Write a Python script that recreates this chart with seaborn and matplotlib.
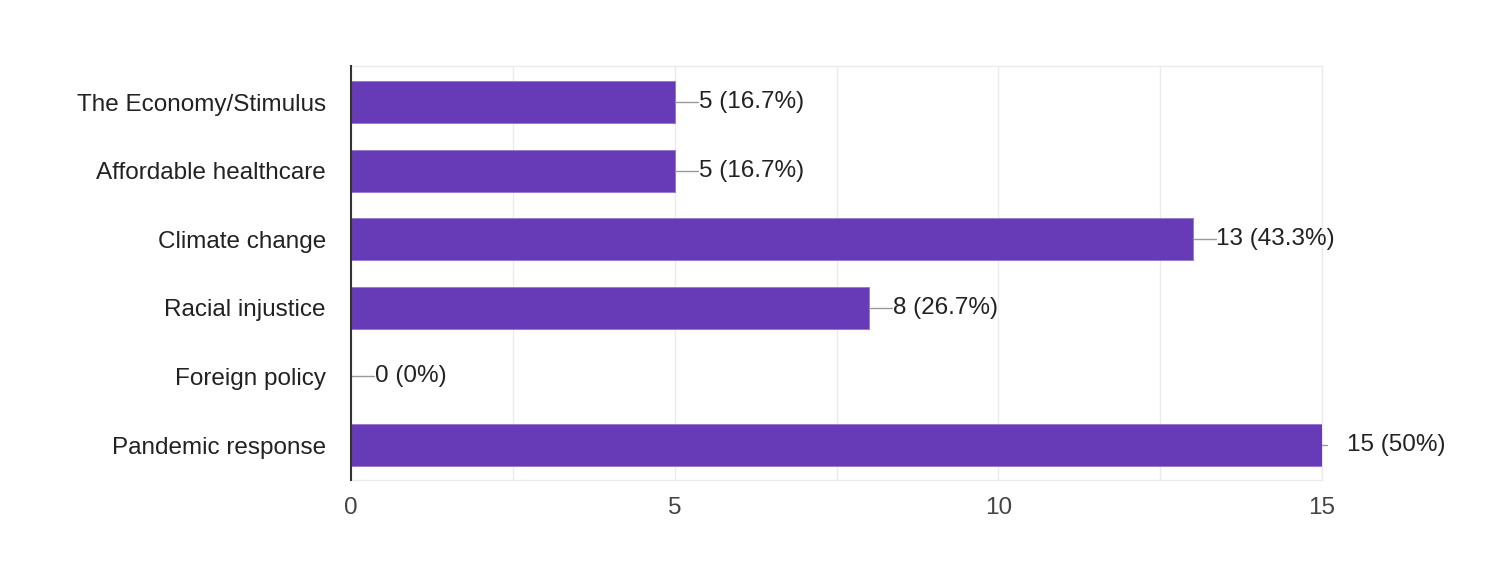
import matplotlib
matplotlib.use("Agg")
import matplotlib.pyplot as plt
import seaborn as sns
import pandas as pd

categories = ["The Economy/Stimulus", "Affordable healthcare", "Climate change",
              "Racial injustice", "Foreign policy", "Pandemic response"]
counts = [5, 5, 13, 8, 0, 15]
labels = ["5 (16.7%)", "5 (16.7%)", "13 (43.3%)", "8 (26.7%)", "0 (0%)", "15 (50%)"]
xticks = [0, 5, 10, 15]

sns.set_theme(style="white")
plt.rcParams['font.family'] = ['Liberation Sans', 'DejaVu Sans']

df = pd.DataFrame({"category": categories, "count": counts})

fig = plt.figure(figsize=(15.01, 5.61), dpi=100)
ax = fig.add_axes([351/1501, 1-480/561, (1322-351)/1501, (480-66)/561])

sns.barplot(data=df, y="category", x="count", orient="h", color="#673AB7",
            saturation=1, width=0.61, ax=ax, edgecolor="#9575CD", linewidth=0.6, zorder=3)

ax.set_xlim(0, 15)
ax.set_ylim(5.51, -0.525)
ax.set_xticks(xticks)
ax.set_xticks([2.5, 7.5, 12.5], minor=True)
ax.grid(True, axis="x", which="both", color="#ebebeb", linewidth=1, zorder=0)
ax.set_xlabel("")
ax.set_ylabel("")
ax.tick_params(axis="x", which="both", length=0, labelsize=17.5, labelcolor="#444444", pad=12)
ax.tick_params(axis="y", length=0, labelsize=17.5, labelcolor="#222222", pad=18)

for side in ["top", "right", "bottom"]:
    ax.spines[side].set_color("#ebebeb")
    ax.spines[side].set_linewidth(1)
ax.spines["left"].set_color("#333333")
ax.spines["left"].set_linewidth(1.5)
ax.spines["left"].set_zorder(5)

xr = 15
for i, (v, lab) in enumerate(zip(counts, labels)):
    if v >= xr:
        ax.plot([v, v + 0.08], [i, i], color="#999999", lw=1, clip_on=False, zorder=4)
        ax.text(v + 0.38, i, lab, va="center", ha="left", fontsize=17.5, color="#222222")
    else:
        ax.plot([v, v + 0.36], [i, i], color="#999999", lw=1, clip_on=False, zorder=4)
        ax.text(v + 0.37, i, lab, va="center", ha="left", fontsize=17.5, color="#222222")

fig.savefig("out.png", dpi=100)
